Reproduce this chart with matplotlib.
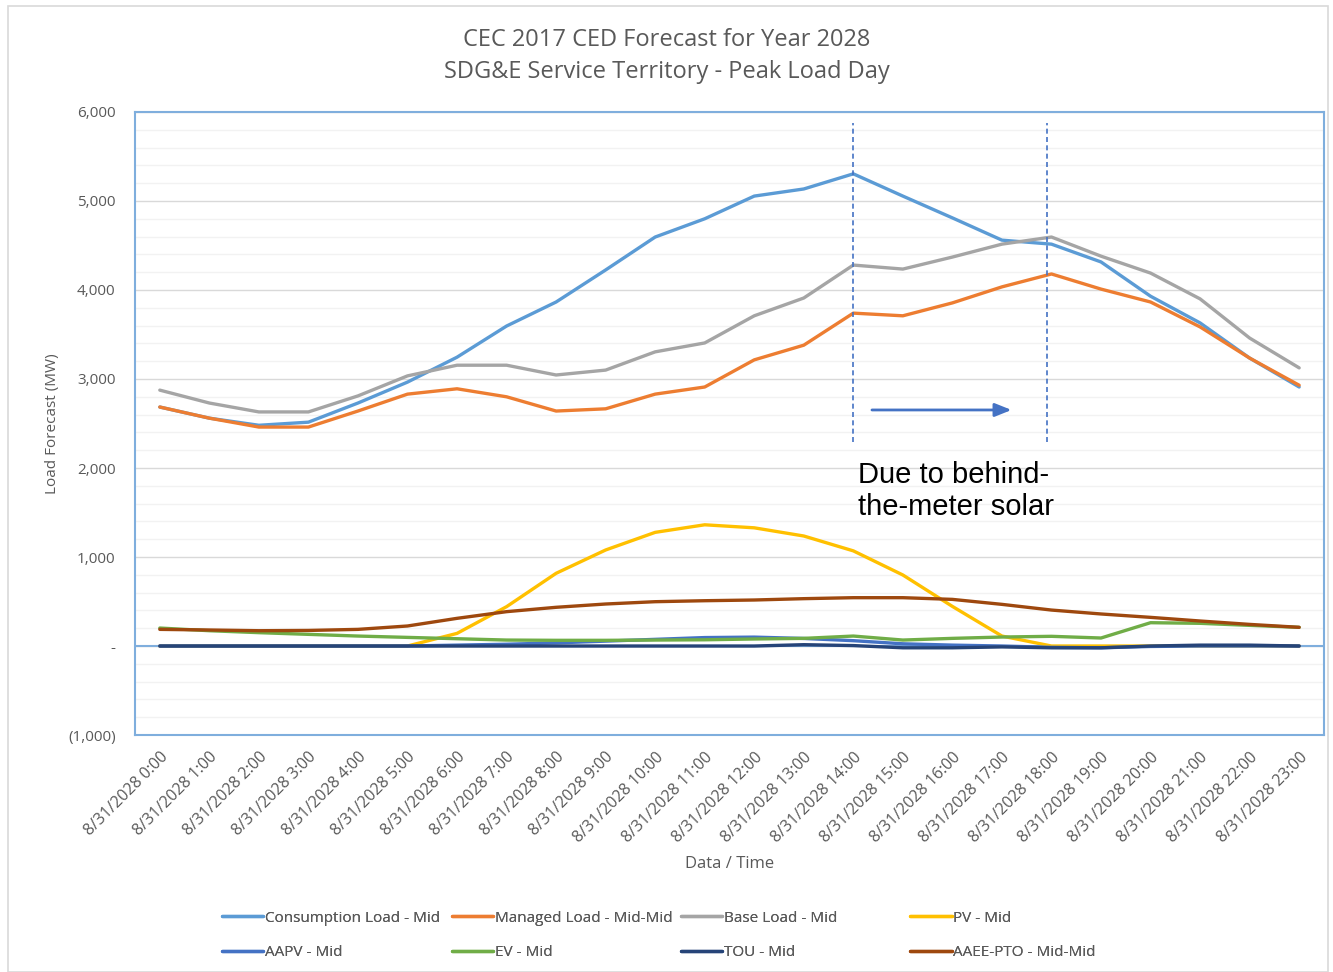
import matplotlib.pyplot as plt
import matplotlib.ticker as mticker
from matplotlib.patches import Rectangle

# hours of the peak day
hours = list(range(24))
tick_labels = [f"8/31/2028 {h}:00" for h in hours]

consumption = [2685, 2560, 2480, 2515, 2730, 2965, 3245, 3595, 3865, 4225, 4595, 4800,
               5055, 5135, 5305, 5055, 4810, 4560, 4515, 4315, 3930, 3630, 3235, 2910]
managed = [2685, 2560, 2460, 2460, 2640, 2830, 2890, 2800, 2640, 2665, 2830, 2910,
           3215, 3380, 3740, 3710, 3855, 4035, 4180, 4010, 3865, 3585, 3235, 2930]
base = [2875, 2730, 2630, 2630, 2810, 3035, 3155, 3155, 3045, 3100, 3305, 3405,
        3710, 3910, 4280, 4235, 4370, 4515, 4595, 4380, 4190, 3900, 3460, 3125]
pv = [0, 0, 0, 0, 0, 0, 142, 442, 817, 1079, 1277, 1362,
      1328, 1236, 1069, 798, 445, 112, 0, 0, 0, 0, 0, 0]
aapv = [0, 0, 0, 0, 0, 0, 10, 20, 35, 55, 75, 95,
        100, 85, 60, 25, 10, 0, -15, -20, -5, 0, 0, 0]
ev = [202, 172, 150, 131, 112, 97, 82, 67, 64, 64, 67, 70,
      79, 86, 112, 67, 86, 101, 109, 90, 262, 255, 232, 210]
tou = [0, 0, 0, 0, 0, 0, 0, 0, 0, 0, 0, 0,
       0, 15, 5, -20, -20, -10, -20, -20, 0, 10, 10, 0]
aaee = [187, 180, 172, 175, 187, 225, 311, 386, 435, 472, 498, 509,
        517, 532, 543, 543, 524, 468, 404, 360, 322, 281, 243, 210]

series = [
    ("Consumption Load - Mid", consumption, "#5B9BD5"),
    ("Managed Load - Mid-Mid", managed, "#ED7D31"),
    ("Base Load - Mid", base, "#A5A5A5"),
    ("PV - Mid", pv, "#FFC000"),
    ("AAPV - Mid", aapv, "#4472C4"),
    ("EV - Mid", ev, "#70AD47"),
    ("TOU - Mid", tou, "#264478"),
    ("AAEE-PTO - Mid-Mid", aaee, "#9E480E"),
]

txt = "#595959"
plt.rcParams['font.family'] = ['Open Sans', 'DejaVu Sans']

fig = plt.figure(figsize=(13.33, 9.72), dpi=100)
fig.patches.append(Rectangle((0.006, 0.0), 0.99, 0.994, transform=fig.transFigure,
                             fill=False, edgecolor="#D9D9D9", lw=1.2))
ax = fig.add_axes([0.1013, 0.2438, 0.8919, 0.641])

lines = {}
for name, vals, col in series:
    lines[name], = ax.plot(hours, vals, color=col, lw=2.4, label=name,
                           solid_capstyle='round', zorder=3)

ax.set_xlim(-0.5, 23.5)
ax.set_ylim(-1000, 6000)
ax.yaxis.set_major_locator(mticker.MultipleLocator(1000))
ax.yaxis.set_minor_locator(mticker.MultipleLocator(200))


def acct(v, pos):
    if v == 0:
        return "-"
    if v < 0:
        return f"({-v:,.0f})"
    return f"{v:,.0f}"


ax.yaxis.set_major_formatter(mticker.FuncFormatter(acct))
ax.grid(which='major', axis='y', color="#D9D9D9", lw=1.0, zorder=0)
ax.grid(which='minor', axis='y', color="#F2F2F2", lw=1.0, zorder=0)
ax.axhline(0, color="#7FAEDD", lw=1.5, zorder=2)

for s in ax.spines.values():
    s.set_color("#7FAEDD")
    s.set_linewidth(1.5)

ax.set_xticks(hours)
ax.set_xticklabels(tick_labels, rotation=45, ha='right', rotation_mode='anchor',
                   fontsize=11.5, color=txt)
ax.tick_params(axis='x', length=0, pad=10)
ax.tick_params(axis='y', which='both', length=0, labelsize=11, labelcolor=txt, pad=14)

ax.set_xlabel("Data / Time", fontsize=12, color=txt, labelpad=8)
ax.set_ylabel("Load Forecast (MW)", fontsize=11, color=txt, labelpad=6)

fig.text(0.5, 0.942, "CEC 2017 CED Forecast for Year 2028\nSDG&E Service Territory - Peak Load Day",
         ha='center', va='center', fontsize=17, color=txt, linespacing=1.45)

# annotation
for xd in (13.99, 17.9):
    ax.plot([xd, xd], [2292, 5876], color="#4472C4", lw=1.2, ls=(0, (3, 2)), zorder=4)
ax.annotate("", xy=(17.25, 2652), xytext=(14.32, 2652),
            arrowprops=dict(arrowstyle="-|>,head_length=1.0,head_width=0.4",
                            color="#4472C4", lw=2), zorder=4)
ax.text(14.1, 1740, "Due to behind-\nthe-meter solar", fontsize=21,
        family=['Liberation Sans', 'DejaVu Sans'], color="black",
        va='center', ha='left', zorder=5)

# legend: 4 equal columns, 2 rows
cols = [["Consumption Load - Mid", "AAPV - Mid"],
        ["Managed Load - Mid-Mid", "EV - Mid"],
        ["Base Load - Mid", "TOU - Mid"],
        ["PV - Mid", "AAEE-PTO - Mid-Mid"]]
xs = [0.1665, 0.339, 0.511, 0.683]
for xl, names in zip(xs, cols):
    leg = fig.legend([lines[n] for n in names], names, loc='upper left',
                     bbox_to_anchor=(xl, 0.063), frameon=False, fontsize=11,
                     handlelength=2.7, handletextpad=0.1, labelspacing=1.25,
                     borderaxespad=0, borderpad=0)
    for t in leg.get_texts():
        t.set_color(txt)
    fig.add_artist(leg)

fig.savefig("out.png", dpi=100)
